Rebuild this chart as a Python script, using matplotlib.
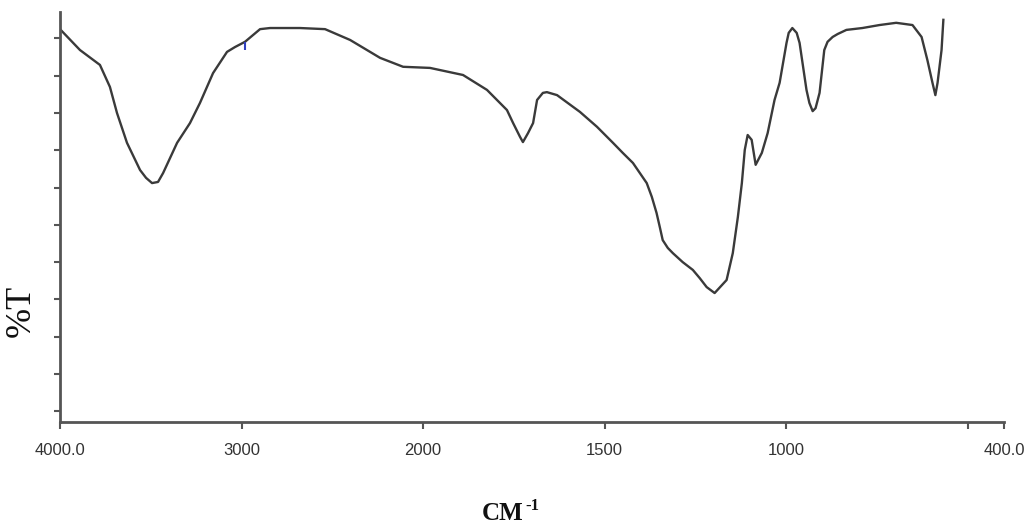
import numpy as np
import matplotlib
matplotlib.use("Agg")
import matplotlib.pyplot as plt

# Wavenumber (cm^-1) and transmittance (%T, arbitrary units)
wavenumber = [4000, 3890, 3780, 3725, 3686, 3631, 3559, 3526, 3493, 3460,
              3432, 3355, 3284, 3229, 3157, 3080, 3036, 2981, 2942, 2898,
              2843, 2678, 2540, 2402, 2237, 2110, 1981, 1890, 1824, 1769,
              1752, 1733, 1725, 1711, 1697, 1686, 1670, 1659, 1631, 1568,
              1521, 1477, 1450, 1422, 1403, 1384, 1370, 1357, 1348, 1340,
              1326, 1312, 1285, 1257, 1238, 1219, 1197, 1164, 1147, 1133,
              1122, 1114, 1106, 1095, 1084, 1067, 1051, 1032, 1018, 999,
              993, 983, 971, 963, 944, 936, 927, 919, 908, 895,
              886, 872, 858, 834, 790, 743, 697, 652, 627, 611,
              597, 589, 583, 572, 567]
transmittance = [105.4, 99.8, 95.8, 89.9, 82.9, 74.9, 67.6, 65.5, 64.1, 64.4,
                 66.8, 74.9, 80.2, 85.6, 93.6, 99.3, 100.6, 102.0, 103.6, 105.4,
                 105.7, 105.7, 105.4, 102.5, 97.7, 95.3, 95.0, 93.1, 89.1, 83.7,
                 80.2, 76.5, 75.1, 77.5, 80.2, 86.4, 88.3, 88.5, 87.7, 83.2,
                 79.2, 74.9, 72.2, 69.5, 66.8, 64.1, 60.4, 56.1, 52.3, 48.8,
                 46.7, 45.3, 42.9, 40.8, 38.6, 36.2, 34.6, 38.1, 45.3, 55.0,
                 64.1, 73.0, 77.0, 75.7, 69.0, 72.2, 77.5, 86.4, 91.0, 101.7,
                 104.4, 105.7, 104.4, 101.7, 89.1, 85.6, 83.4, 84.2, 88.3, 99.8,
                 102.0, 103.3, 104.1, 105.2, 105.7, 106.5, 107.1, 106.5, 103.3, 97.1,
                 91.0, 87.7, 91.0, 99.8, 107.9]

tick_values = [4000, 3000, 2000, 1500, 1000, 500, 400]
tick_labels = ["4000.0", "3000", "2000", "1500", "1000", "", "400.0"]
y_ticks = [2.9 + 10 * k for k in range(11)]


def forward(w):
    w = np.asarray(w, dtype=float)
    return np.where(w >= 2000, (4000 - w) * 0.5, 1000 + (2000 - w))


def inverse(t):
    t = np.asarray(t, dtype=float)
    return np.where(t <= 1000, 4000 - 2 * t, 3000 - t)


fig = plt.figure(figsize=(10.24, 5.24), dpi=100)
ax = fig.add_axes([60 / 1024, 1 - 422 / 524, (1004 - 60) / 1024, 410 / 524])
ax.set_xscale('function', functions=(forward, inverse))
ax.plot(wavenumber, transmittance, color='#3a3a3a', lw=1.7,
        solid_joinstyle='round')
ax.plot([2981], [101.0], marker='|', color='#3040c0', ms=6, mew=1.5)

ax.set_xlim(400, 4000)
ax.set_ylim(0, 110)
ax.set_xticks(tick_values)
ax.set_xticklabels(tick_labels)
ax.set_yticks(y_ticks)
ax.set_yticklabels([])
ax.minorticks_off()
ax.tick_params(axis='x', direction='out', length=5, width=1.5, color='#555555',
               labelsize=12, labelcolor='#333333', pad=10)
ax.tick_params(axis='y', direction='out', length=4, width=1.5, color='#555555')
for lab in ax.get_xticklabels():
    lab.set_fontfamily('Liberation Sans')
for s in ['top', 'right']:
    ax.spines[s].set_visible(False)
for s in ['left', 'bottom']:
    ax.spines[s].set_color('#555555')
    ax.spines[s].set_linewidth(2)

fig.text(21 / 1024, 1 - 311 / 524, '%T', rotation=90, ha='center', va='center',
         fontsize=26, family='Liberation Serif', color='#111111')
fig.text(482 / 1024, 1 - 520 / 524, 'CM', ha='left', va='baseline',
         fontsize=18, family='Liberation Serif', weight='bold', color='#111111')
fig.text(525 / 1024, 1 - 510 / 524, '-1', ha='left', va='baseline',
         fontsize=12, family='Liberation Serif', weight='bold', color='#111111')

fig.savefig('out.png', dpi=100, facecolor='white')
